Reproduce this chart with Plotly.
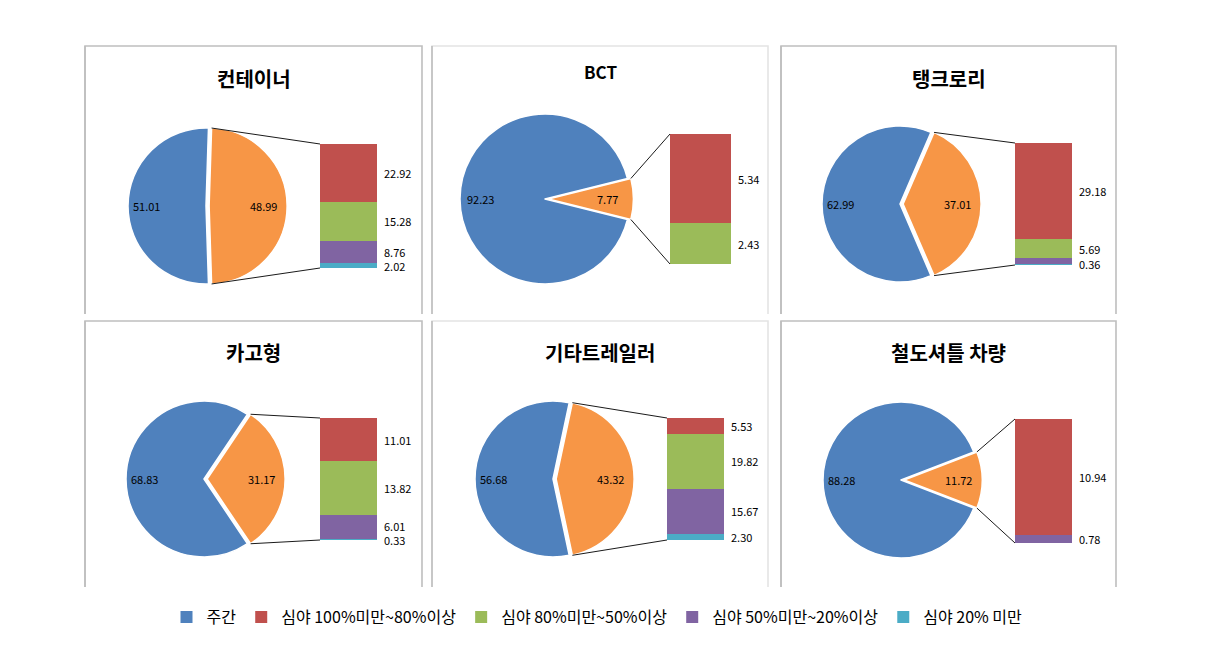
import math
import plotly.graph_objects as go

# ---------------- data ----------------
vehicle_types = ["컨테이너", "BCT", "탱크로리", "카고형", "기타트레일러", "철도셔틀 차량"]
day_share = [51.01, 92.23, 62.99, 68.83, 56.68, 88.28]          # 주간
night_share = [48.99, 7.77, 37.01, 31.17, 43.32, 11.72]         # 심야 합계
night_100_80 = [22.92, 5.34, 29.18, 11.01, 5.53, 10.94]
night_80_50 = [15.28, 2.43, 5.69, 13.82, 19.82, 0.0]
night_50_20 = [8.76, 0.0, 1.78, 6.01, 15.67, 0.78]
night_20_below = [2.02, 0.0, 0.36, 0.33, 2.30, 0.0]
series_names = ["주간", "심야 100%미만~80%이상", "심야 80%미만~50%이상",
                "심야 50%미만~20%이상", "심야 20% 미만"]
# bar labels that are not displayed in the original (panel index, night-series index)
hidden_labels = {(2, 2)}

# ---------------- styles / layout ----------------
W, H = 1221, 650
C_DAY, C_NIGHT = "#4F81BD", "#F79646"
C_SERIES = ["#C0504D", "#9BBB59", "#8064A2", "#4BACC6"]
FONT = "Noto Sans CJK KR"
PULL = 0.04
LABEL_SEP = 14  # minimum vertical distance between bar labels, px

box_x = [(85, 422), (432, 768), (781, 1116)]
box_y = [(46, 314), (321, 587)]
pie_geom = [(206, 206, 78), (545, 199, 85), (900, 204, 78),
            (204, 479, 78), (553, 479, 78), (901, 480, 78)]
bar_geom = [(320, 377, 144, 268), (670, 731, 134, 264), (1015, 1072, 143, 265),
            (320, 377, 418, 540), (667, 724, 418, 540), (1015, 1072, 419, 543)]
title_y = [78, 71, 78, 352, 352, 352]
title_size = [20, 17, 20, 20, 20, 20]


def px(x):
    return x / W


def py(y):
    return 1 - y / H


fig = go.Figure()
shapes = []
annotations = []
layout_axes = {}

bar_series = [night_100_80, night_80_50, night_50_20, night_20_below]

for i, name in enumerate(vehicle_types):
    row, col = divmod(i, 3)
    bx0, bx1 = box_x[col]
    by0, by1 = box_y[row]

    # panel frame (left, top, right)
    shapes.append(dict(type="path", xref="paper", yref="paper",
                       path=f"M {px(bx0)},{py(by1)} L {px(bx0)},{py(by0)} L {px(bx1)},{py(by0)} L {px(bx1)},{py(by1)}",
                       line=dict(color="#BEBEBE" if col != 1 else "#E4E4E4", width=1.6)))
    shapes.append(dict(type="line", xref="paper", yref="paper",
                       x0=px(bx0), x1=px(bx0), y0=py(by0), y1=py(by1),
                       line=dict(color="#BEBEBE", width=1.6)))

    # title
    annotations.append(dict(text=f"<b>{name}</b>", xref="paper", yref="paper",
                            x=px((bx0 + bx1) / 2), y=py(title_y[i]),
                            xanchor="center", yanchor="middle", showarrow=False,
                            font=dict(family=FONT, size=title_size[i], color="#000000")))

    # pie
    cx, cy, r = pie_geom[i]
    half = r * (1 + PULL)
    night_angle = 360 * night_share[i] / (night_share[i] + day_share[i])
    rotation = 90 - night_angle / 2
    fig.add_trace(go.Pie(
        values=[night_share[i], day_share[i]],
        labels=["심야", "주간"],
        sort=False, direction="clockwise", rotation=rotation,
        pull=[PULL, 0],
        marker=dict(colors=[C_NIGHT, C_DAY], line=dict(color="#FFFFFF", width=1.5)),
        textinfo="none", showlegend=False,
        domain=dict(x=[px(cx - half), px(cx + half)], y=[py(cy + half), py(cy - half)]),
    ))
    # pie labels
    annotations.append(dict(text=f"{day_share[i]:.2f}", xref="paper", yref="paper",
                            x=px(cx - 0.76 * r), y=py(cy), showarrow=False,
                            xanchor="center", yanchor="middle",
                            font=dict(family=FONT, size=11, color="#000000")))
    annotations.append(dict(text=f"{night_share[i]:.2f}", xref="paper", yref="paper",
                            x=px(cx + PULL * r + 0.70 * r), y=py(cy), showarrow=False,
                            xanchor="center", yanchor="middle",
                            font=dict(family=FONT, size=11, color="#000000")))

    # bar axes
    x0, x1, y0, y1 = bar_geom[i]
    k = i + 1
    xa = "x" if k == 1 else f"x{k}"
    ya = "y" if k == 1 else f"y{k}"
    layout_axes["xaxis" if k == 1 else f"xaxis{k}"] = dict(
        domain=[px(x0), px(x1)], range=[-0.5, 0.5], visible=False, fixedrange=True,
        anchor=ya)
    layout_axes["yaxis" if k == 1 else f"yaxis{k}"] = dict(
        domain=[py(y1), py(y0)], range=[0, night_share[i]], visible=False, fixedrange=True,
        anchor=xa)

    if i == 0:
        fig.add_trace(go.Bar(x=[0], y=[0], width=1, name=series_names[0],
                             marker=dict(color=C_DAY, line=dict(width=0)),
                             xaxis=xa, yaxis=ya, showlegend=True, legendrank=1,
                             hoverinfo="skip"))

    # stacked from the bottom: 20% 미만 -> 100%~80%
    px_per_unit = (y1 - y0) / night_share[i]
    base = 0.0
    labels = []  # (value, y data centre)
    for s in range(3, -1, -1):
        v = bar_series[s][i]
        fig.add_trace(go.Bar(x=[0], y=[v], width=1, name=series_names[s + 1],
                             marker=dict(color=C_SERIES[s], line=dict(width=0)),
                             xaxis=xa, yaxis=ya, showlegend=(i == 0),
                             legendrank=s + 2))
        if v > 0 and (i, s) not in hidden_labels:
            labels.append([v, base + v / 2, 0.0])
        base += v

    # keep neighbouring labels apart (bottom -> top), splitting the shift
    for j in range(1, len(labels)):
        lower, upper = labels[j - 1], labels[j]
        gap = (upper[1] - lower[1]) * px_per_unit + upper[2] - lower[2]
        if gap < LABEL_SEP:
            need = LABEL_SEP - gap
            lower[2] -= need / 2
            upper[2] += need / 2
    for v, yc, shift in labels:
        annotations.append(dict(text=f"{v:.2f}", xref=xa, yref=ya,
                                x=0.5, y=yc, xshift=5, yshift=shift,
                                xanchor="left", yanchor="middle", showarrow=False,
                                font=dict(family=FONT, size=11, color="#000000")))

    # connector lines from the night slice edges to the bar
    t0 = math.radians(rotation)
    t1 = math.radians(rotation + night_angle)
    sx = cx + PULL * r
    top_pt = (sx + r * math.sin(t0), cy - r * math.cos(t0))
    bot_pt = (sx + r * math.sin(t1), cy - r * math.cos(t1))
    shapes.append(dict(type="line", xref="paper", yref="paper",
                       x0=px(top_pt[0]), y0=py(top_pt[1]), x1=px(x0), y1=py(y0),
                       line=dict(color="#1A1A1A", width=1)))
    shapes.append(dict(type="line", xref="paper", yref="paper",
                       x0=px(bot_pt[0]), y0=py(bot_pt[1]), x1=px(x0), y1=py(y1),
                       line=dict(color="#1A1A1A", width=1)))

fig.update_layout(
    width=W, height=H,
    margin=dict(l=0, r=0, t=0, b=0),
    paper_bgcolor="#FFFFFF", plot_bgcolor="rgba(0,0,0,0)",
    barmode="stack", bargap=0,
    shapes=shapes, annotations=annotations,
    legend=dict(orientation="h", x=px(597), xanchor="center", y=py(617), yanchor="middle",
                font=dict(family=FONT, size=16, color="#000000"),
                itemwidth=30, traceorder="normal", itemclick=False, itemdoubleclick=False),
    font=dict(family=FONT),
    **layout_axes,
)

fig.write_html("out.html")
